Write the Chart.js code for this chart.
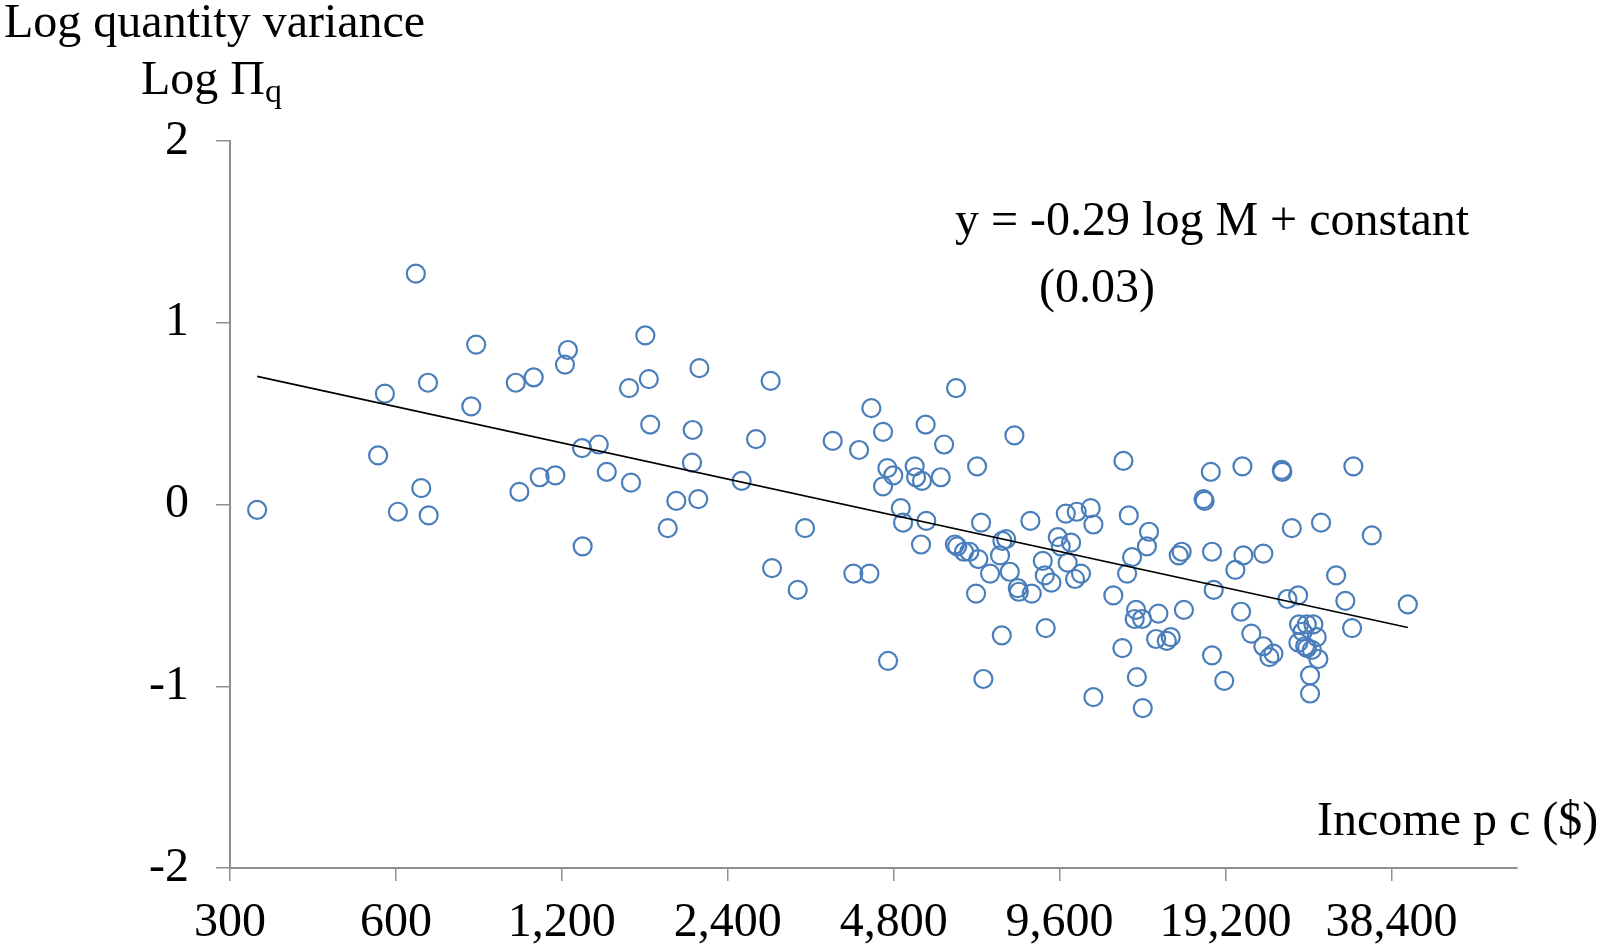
<!DOCTYPE html>
<html>
<head>
<meta charset="utf-8">
<script src="https://cdn.jsdelivr.net/npm/chart.js@4.4.1/dist/chart.umd.min.js"></script>
<style>
  body { margin: 0; background: #fff; }
  canvas { display: block; }
</style>
</head>
<body>
<canvas id="chartVar" width="1601" height="948"></canvas>
<script>
// income per capita ($) and log quantity variance
const income = [
    336, 652, 839, 573, 686, 822, 990, 1067, 1231, 1216, 1701, 1726, 1589, 1736, 1306, 1400,
    557, 667, 605, 688, 1005, 1094, 1168, 1448, 1602, 1309, 1936, 1868,
    2132, 2073, 2067, 2122, 2871, 2701, 2544, 3315, 2888, 3215, 3721, 4154, 4373, 4592,
    6230, 5487, 5926, 7949, 4675, 4793, 4592, 5241, 5271, 5404, 5844, 6802, 4056, 4338,
    4689, 4945, 4993, 5382, 5502, 6200, 6260, 6441, 6586, 6839, 6916, 7560, 7680, 8498,
    7486, 7181, 7797, 6773, 8062, 8098, 8547, 7542, 6984,
    12535, 18060, 20610, 24290, 24350, 32760, 17520, 17600, 9852, 10316, 10935, 11058,
    12819, 13950, 13830, 12996, 12729, 12018, 13215, 13140, 13551, 14508, 14370, 15024,
    15273, 12480, 13260, 11058, 13590, 9060, 8950, 9025, 9278, 9930, 10242, 10500, 9528,
    9648, 10074, 15794, 15990, 18150, 20010, 20690, 22490, 18280, 16140, 20490, 21390,
    18150, 19100, 22490, 23070, 23460, 24870, 26010, 30480, 25330, 28620, 35380, 31680,
    32580, 26110, 26970, 27720, 28110, 26040, 26780, 27540, 28300, 27340, 27340, 26500,
    27000, 41130
]
const logVar = [
    -0.03, 1.27, 0.88, 0.61, 0.67, 0.54, 0.67, 0.70, 0.85, 0.77, 0.93, 0.69, 0.64, 0.44, 0.31, 0.33,
    0.27, 0.09, -0.04, -0.06, 0.07, 0.15, 0.16, 0.18, 0.12, -0.23, 0.02, -0.13,
    0.75, 0.41, 0.23, 0.03, 0.68, 0.36, 0.13, -0.13, -0.35, -0.47, 0.35, 0.30, 0.53, 0.40,
    0.64, 0.44, 0.33, 0.38, 0.20, 0.16, 0.10, 0.21, 0.15, 0.13, 0.15, 0.21, -0.38, -0.38,
    -0.86, -0.02, -0.10, -0.22, -0.09, -0.22, -0.23, -0.26, -0.26, -0.30, -0.10, -0.20, -0.19, -0.09,
    -0.28, -0.38, -0.37, -0.49, -0.46, -0.48, -0.49, -0.72, -0.96,
    0.24, 0.18, 0.21, 0.19, 0.18, 0.21, 0.03, 0.02, -0.05, -0.04, -0.02, -0.11,
    -0.06, -0.15, -0.23, -0.29, -0.38, -0.50, -0.58, -0.63, -0.63, -0.60, -0.74, -0.75,
    -0.73, -0.79, -0.95, -1.06, -1.12, -0.68, -0.31, -0.39, -0.43, -0.32, -0.41, -0.38, -0.18,
    -0.23, -0.21, -0.28, -0.26, -0.26, -0.36, -0.28, -0.27, -0.47, -0.58, -0.59, -0.71,
    -0.83, -0.97, -0.78, -0.84, -0.82, -0.52, -0.50, -0.39, -0.13, -0.10, -0.17, -0.53,
    -0.68, -0.66, -0.66, -0.66, -0.73, -0.76, -0.78, -0.80, -0.85, -0.94, -1.04, -0.70,
    -0.79, -0.55
]

// fitted line, two ends
const trendX = [336, 41130]
const trendY = [0.705, -0.677]

const xTicks = [300, 600, 1200, 2400, 4800, 9600, 19200, 38400]
const yTicks = [-2, -1, 0, 1, 2]

const serif = "'Liberation Serif', 'Times New Roman', serif"
const azul = '#4a7ebb'
const gris = '#8f8f8f'

const puntos = income.map((v, i) => ({ x: v, y: logVar[i] }))
const linea = trendX.map((v, i) => ({ x: v, y: trendY[i] }))

// texts around the plot
const textos = {
    id: 'textos',
    afterDraw(chart) {
        const ctx = chart.ctx
        ctx.save()
        ctx.fillStyle = '#000'
        ctx.textAlign = 'left'
        ctx.textBaseline = 'alphabetic'
        ctx.font = `48px ${serif}`
        ctx.fillText('Log quantity variance', 4, 37)
        ctx.fillText('Log \u03A0', 141, 94)
        const w = ctx.measureText('Log \u03A0').width
        ctx.font = `34px ${serif}`
        ctx.fillText('q', 141 + w, 102)
        ctx.font = `48px ${serif}`
        ctx.fillText('y = -0.29 log M + constant', 955, 235)
        ctx.fillText('(0.03)', 1039, 302)
        ctx.fillText('Income p c ($)', 1317, 835)
        ctx.restore()
    }
}

const chart = new Chart(document.getElementById('chartVar'), {
    type : 'scatter',
    data : {
        datasets : [
            {
                label : 'Tendencia',
                data : linea,
                showLine : true,
                borderColor : '#000',
                borderWidth : 1.6,
                pointRadius : 0,
                fill : false
            },
            {
                label : 'Paises',
                data : puntos,
                pointStyle : 'circle',
                pointRadius : 9,
                borderWidth : 2.2,
                borderColor : azul,
                backgroundColor : 'rgba(0,0,0,0)'
            }
        ]
    },
    options : {
        responsive : false,
        animation : false,
        layout : { padding : { top : 141, right : 84, left : 0, bottom : 0 } },
        plugins : {
            legend : { display : false },
            tooltip : { enabled : false }
        },
        scales : {
            x : {
                type : 'logarithmic',
                min : 300,
                max : 64900,
                afterBuildTicks : scale => { scale.ticks = xTicks.map(v => ({ value : v })) },
                afterFit : scale => { scale.height = 80 },
                ticks : {
                    autoSkip : false,
                    maxRotation : 0,
                    color : '#000',
                    padding : 14,
                    font : { family : serif, size : 48 },
                    callback : v => Number(v).toLocaleString('en-US')
                },
                grid : { drawOnChartArea : false, tickLength : 13, color : gris, lineWidth : 1.5 },
                border : { color : gris, width : 2 }
            },
            y : {
                min : -2,
                max : 2,
                afterBuildTicks : scale => { scale.ticks = yTicks.map(v => ({ value : v })) },
                afterFit : scale => { scale.width = 230 },
                ticks : {
                    color : '#000',
                    padding : 27,
                    font : { family : serif, size : 48 },
                    callback : v => String(v)
                },
                grid : { drawOnChartArea : false, tickLength : 14, color : gris, lineWidth : 1.5 },
                border : { color : gris, width : 2 }
            }
        }
    },
    plugins : [textos]
})
</script>
</body>
</html>
